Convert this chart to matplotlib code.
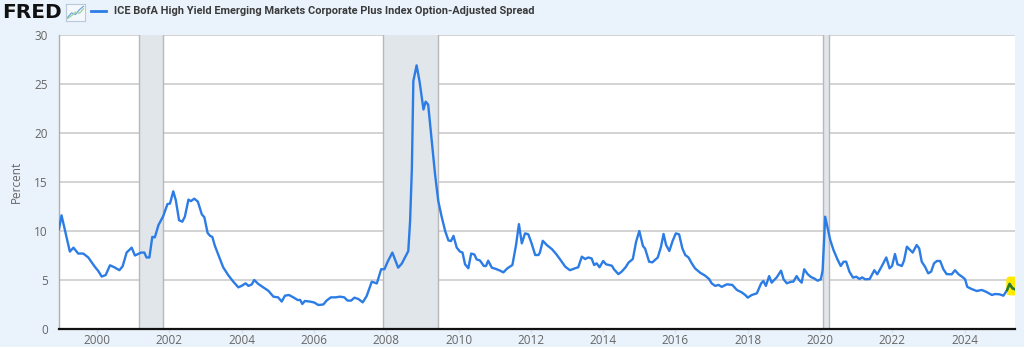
import matplotlib
matplotlib.use("Agg")
import matplotlib.pyplot as plt
from matplotlib.lines import Line2D
from matplotlib.patches import FancyBboxPatch
import numpy as np

# ---- data (decimal year, percent) ----
years = [
    1998.95, 1999.02, 1999.25, 1999.35, 1999.48, 1999.62, 1999.76, 1999.93,
    2000.04, 2000.13, 2000.24, 2000.36, 2000.48, 2000.62, 2000.71, 2000.82, 2000.96,
    2001.05, 2001.22, 2001.31, 2001.37, 2001.45, 2001.53, 2001.60, 2001.70, 2001.83, 2001.95,
    2002.02, 2002.11, 2002.18, 2002.27, 2002.36, 2002.43, 2002.53, 2002.60, 2002.69, 2002.79, 2002.90, 2002.97,
    2003.06, 2003.13, 2003.19, 2003.26, 2003.36, 2003.49, 2003.63, 2003.77, 2003.91,
    2004.00, 2004.11, 2004.19, 2004.28, 2004.35, 2004.46, 2004.60, 2004.74, 2004.88,
    2005.01, 2005.11, 2005.20, 2005.31, 2005.43, 2005.55, 2005.62, 2005.68, 2005.75, 2005.89,
    2006.01, 2006.12, 2006.26, 2006.35, 2006.47, 2006.60, 2006.72, 2006.84, 2006.93,
    2007.03, 2007.12, 2007.23, 2007.35, 2007.46, 2007.60, 2007.74, 2007.86, 2007.95,
    2008.04, 2008.17, 2008.33, 2008.43, 2008.57, 2008.61, 2008.66, 2008.71, 2008.75, 2008.84, 2008.92,
    2009.03, 2009.09, 2009.16, 2009.26, 2009.35, 2009.44, 2009.53, 2009.63, 2009.72, 2009.79, 2009.86, 2009.95,
    2010.04, 2010.11, 2010.18, 2010.27, 2010.35, 2010.44, 2010.50, 2010.59, 2010.70, 2010.76, 2010.82, 2010.92,
    2011.04, 2011.15, 2011.24, 2011.35, 2011.49, 2011.59, 2011.67, 2011.75, 2011.84, 2011.93,
    2012.02, 2012.12, 2012.21, 2012.25, 2012.33, 2012.44, 2012.58, 2012.70, 2012.81, 2012.95,
    2013.08, 2013.22, 2013.31, 2013.41, 2013.50, 2013.59, 2013.68, 2013.75, 2013.82, 2013.90,
    2014.00, 2014.08, 2014.24, 2014.30, 2014.42, 2014.51, 2014.62, 2014.70, 2014.82, 2014.91,
    2015.00, 2015.10, 2015.16, 2015.27, 2015.36, 2015.51, 2015.60, 2015.67, 2015.74, 2015.83, 2015.92,
    2016.01, 2016.10, 2016.19, 2016.27, 2016.36, 2016.45, 2016.54, 2016.68, 2016.82, 2016.93,
    2017.00, 2017.10, 2017.19, 2017.28, 2017.42, 2017.57, 2017.70, 2017.83, 2017.93,
    2018.00, 2018.11, 2018.25, 2018.37, 2018.43, 2018.50, 2018.59, 2018.66, 2018.80, 2018.92, 2018.99,
    2019.08, 2019.20, 2019.26, 2019.35, 2019.42, 2019.49, 2019.56, 2019.66, 2019.75, 2019.84, 2019.93,
    2020.02, 2020.07, 2020.14, 2020.20, 2020.28, 2020.37, 2020.48, 2020.57, 2020.65, 2020.72, 2020.81, 2020.91,
    2021.00, 2021.09, 2021.16, 2021.25, 2021.37, 2021.50, 2021.58, 2021.69, 2021.83, 2021.92, 2021.99,
    2022.07, 2022.14, 2022.26, 2022.32, 2022.40, 2022.47, 2022.56, 2022.67, 2022.74, 2022.81, 2022.90, 2022.99,
    2023.07, 2023.15, 2023.23, 2023.32, 2023.41, 2023.50, 2023.64, 2023.73, 2023.83, 2023.95,
    2024.01, 2024.07, 2024.19, 2024.33, 2024.47, 2024.59, 2024.75, 2024.84, 2024.96,
    2025.07, 2025.17, 2025.24, 2025.32, 2025.39,
]
spread = [
    10.2, 11.6, 7.9, 8.3, 7.7, 7.7, 7.3, 6.4,
    5.9, 5.35, 5.5, 6.5, 6.3, 6.0, 6.4, 7.8, 8.3,
    7.5, 7.8, 7.8, 7.3, 7.3, 9.4, 9.35, 10.6, 11.5, 12.75,
    12.8, 14.05, 13.15, 11.1, 10.95, 11.45, 13.2, 13.05, 13.3, 13.0, 11.7, 11.4,
    9.8, 9.5, 9.4, 8.5, 7.55, 6.3, 5.5, 4.83, 4.25,
    4.4, 4.66, 4.4, 4.55, 5.0, 4.6, 4.25, 3.9, 3.3,
    3.23, 2.8, 3.4, 3.47, 3.23, 2.96, 2.96, 2.55, 2.86, 2.8,
    2.7, 2.45, 2.5, 2.9, 3.23, 3.23, 3.3, 3.23, 2.9,
    2.9, 3.2, 3.06, 2.72, 3.37, 4.83, 4.65, 6.1, 6.1,
    6.87, 7.8, 6.26, 6.67, 7.68, 7.95, 11.0, 16.4, 25.3, 26.9, 25.3,
    22.4, 23.2, 22.9, 19.2, 15.8, 13.05, 11.5, 10.0, 9.04, 8.97, 9.5, 8.3,
    7.9, 7.8, 6.6, 6.2, 7.7, 7.6, 7.1, 7.0, 6.43, 6.43, 6.97, 6.26,
    6.12, 5.95, 5.78, 6.19, 6.53, 8.57, 10.7, 8.74, 9.76, 9.66,
    8.74, 7.55, 7.55, 7.8, 9.0, 8.57, 8.16, 7.65, 7.1, 6.36,
    6.0, 6.19, 6.3, 7.38, 7.14, 7.3, 7.2, 6.53, 6.7, 6.3,
    6.94, 6.6, 6.46, 6.09, 5.6, 5.85, 6.3, 6.77, 7.14, 8.9,
    10.0, 8.47, 8.2, 6.87, 6.8, 7.3, 8.4, 9.7, 8.57, 7.96, 8.98,
    9.76, 9.66, 8.23, 7.55, 7.3, 6.7, 6.19, 5.75, 5.44, 5.1,
    4.66, 4.4, 4.5, 4.3, 4.56, 4.5, 3.98, 3.74, 3.47,
    3.2, 3.47, 3.64, 4.66, 4.9, 4.4, 5.4, 4.73, 5.27, 5.95, 5.07,
    4.66, 4.83, 4.83, 5.4, 5.0, 4.73, 6.09, 5.58, 5.3, 5.15, 4.93,
    5.07, 6.0, 11.46, 10.44, 9.08, 8.06, 7.1, 6.43, 6.87, 6.87, 5.85, 5.24,
    5.34, 5.1, 5.27, 5.07, 5.1, 6.0, 5.58, 6.3, 7.3, 6.19, 6.43,
    7.65, 6.6, 6.43, 6.97, 8.4, 8.13, 7.8, 8.57, 8.23, 6.87, 6.36, 5.68,
    5.85, 6.7, 6.94, 6.94, 6.09, 5.6, 5.58, 6.0, 5.58, 5.27,
    5.07, 4.3, 4.08, 3.88, 3.98, 3.8, 3.47, 3.57, 3.54,
    3.4, 3.98, 4.6, 4.15, 4.05,
]

# recession periods (shaded)
rec_start = [2001.17, 2007.92, 2020.08]
rec_end = [2001.84, 2009.42, 2020.25]

tick_years = list(range(2000, 2025, 2))
y_ticks = [0, 5, 10, 15, 20, 25, 30]

title = "ICE BofA High Yield Emerging Markets Corporate Plus Index Option-Adjusted Spread"

# ---- colours ----
bg = "#eaf2fb"
line_col = "#2c7ce5"
grid_col = "#d0d0d0"
txt_col = "#666666"
tick_font = ["Open Sans", "DejaVu Sans"]

fig = plt.figure(figsize=(10.24, 3.47), dpi=100, facecolor=bg)
ax = fig.add_axes([59 / 1024, 1 - 329 / 347, (1015 - 59) / 1024, (329 - 35) / 347])
ax.set_facecolor("white")

for s, e in zip(rec_start, rec_end):
    ax.axvspan(s, e, facecolor="#e1e6eb", edgecolor="none", zorder=1)
    ax.axvline(s, color="#b8b8b8", lw=1, zorder=1.5)
    ax.axvline(e, color="#b8b8b8", lw=1, zorder=1.5)

ax.plot(years, spread, color=line_col, lw=1.7, zorder=3, solid_joinstyle="round")

# highlight of the latest values
n_hl = 4
hx = years[-n_hl:]
hy = spread[-n_hl:]
box = FancyBboxPatch((hx[0] - 0.02, min(hy) - 0.55), (hx[-1] - hx[0]) + 0.2, (max(hy) - min(hy)) + 1.3,
                     boxstyle="round,pad=0,rounding_size=0.1", mutation_aspect=3.7,
                     facecolor="#ffea00", edgecolor="none", zorder=2.5)
ax.add_patch(box)
ax.plot(hx, hy, color="#2f7d1a", lw=1.7, zorder=4, solid_joinstyle="round")

ax.set_xlim(1998.95, 2025.39)
ax.set_ylim(0, 30)
ax.set_yticks(y_ticks)
ax.set_xticks(tick_years)
ax.set_xticklabels([str(y) for y in tick_years])
ax.yaxis.grid(True, color=grid_col, lw=1.3)
ax.set_axisbelow(True)

for side in ["top", "right"]:
    ax.spines[side].set_visible(False)
ax.spines["left"].set_color("#b0b0b0")
ax.spines["left"].set_linewidth(1)
ax.spines["bottom"].set_color("#111111")
ax.spines["bottom"].set_linewidth(1.6)
ax.spines["bottom"].set_zorder(5)

ax.tick_params(axis="y", length=0, pad=8, labelsize=8.5, labelcolor=txt_col)
ax.tick_params(axis="x", length=3, width=1, color="#d6e2ef", pad=0.5, labelsize=8.5, labelcolor=txt_col)
for lab in ax.get_xticklabels() + ax.get_yticklabels():
    lab.set_fontfamily(tick_font)

ax.set_ylabel("Percent", fontsize=8.5, color=txt_col, family=tick_font, labelpad=8)

# ---- header ----
fig.text(2 / 1024, 1 - 12 / 347, "FRED", fontsize=14.5, fontweight="bold", family=["DejaVu Sans"],
         color="#111111", va="center", ha="left")

# small chart icon next to logo
icon = fig.add_axes([66 / 1024, 1 - 21 / 347, 19 / 1024, 17 / 347])
icon.set_facecolor("#f4f8fc")
for sp in icon.spines.values():
    sp.set_color("#b7c9dc")
    sp.set_linewidth(0.8)
icon.set_xticks([])
icon.set_yticks([])
icon.plot([0, 1, 2, 3, 4], [0.5, 1.6, 1.2, 2.4, 3.2], color="#6fa8dc", lw=0.9)
icon.plot([0, 1, 2, 3, 4], [0.2, 0.9, 1.8, 1.5, 2.6], color="#9fd0a0", lw=0.9)
icon.set_xlim(-0.4, 4.4)
icon.set_ylim(-0.4, 3.8)

fig.lines.append(Line2D([91 / 1024, 106 / 1024], [1 - 11 / 347, 1 - 11 / 347], color=line_col, lw=2,
                        transform=fig.transFigure))
fig.text(114 / 1024, 1 - 11 / 347, title, fontsize=7.9, fontweight="bold", color="#3a3a3a",
         family=["Roboto", "DejaVu Sans"], va="center", ha="left")

fig.savefig("out.png", dpi=100, facecolor=bg)
